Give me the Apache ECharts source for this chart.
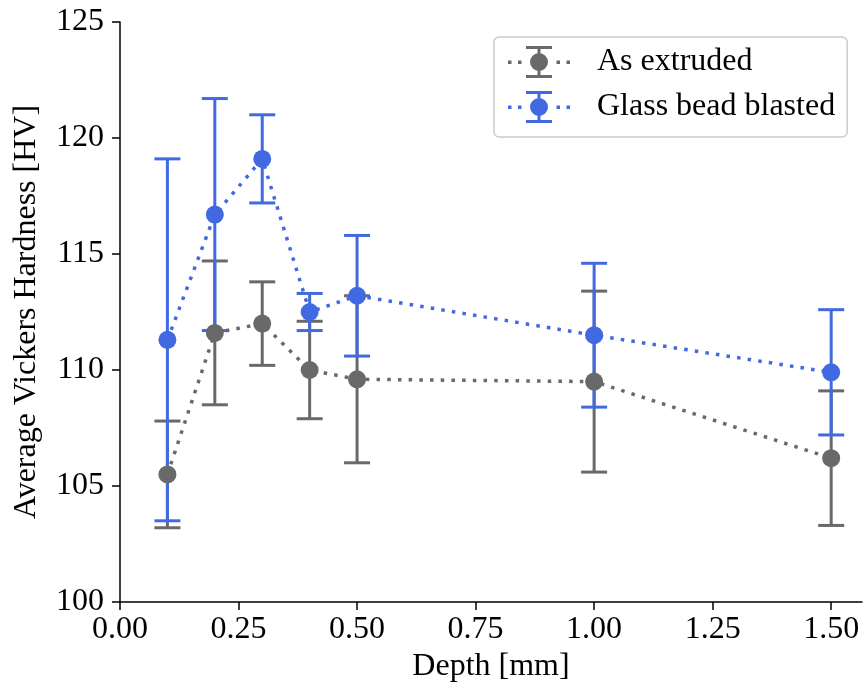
<!DOCTYPE html>
<html>
<head>
<meta charset="utf-8">
<script src="https://cdn.jsdelivr.net/npm/echarts@6/dist/echarts.min.js"></script>
<style>html,body{margin:0;padding:0;background:#fff}#c{width:863px;height:693px}</style>
</head>
<body>
<div id="c"></div>
<script>
// ---- data ----
const depths = [0.1, 0.2, 0.3, 0.4, 0.5, 1.0, 1.5];
const extrudedMean = [105.5, 111.6, 112.0, 110.0, 109.6, 109.5, 106.2];
const extrudedErr  = [2.3, 3.1, 1.8, 2.1, 3.6, 3.9, 2.9];
const blastedMean  = [111.3, 116.7, 119.1, 112.5, 113.2, 111.5, 109.9];
const blastedErr   = [7.8, 5.0, 1.9, 0.8, 2.6, 3.1, 2.7];
const xTicks = [0, 0.25, 0.5, 0.75, 1.0, 1.25, 1.5];
const yTicks = [100, 105, 110, 115, 120, 125];
const seriesNames = ['As extruded', 'Glass bead blasted'];

const GRAY = '#696969';
const BLUE = '#4169e1';
const FONT = 'Liberation Serif';

function pts(mean) { return depths.map((d, i) => [d, mean[i]]); }
function errData(mean, err) { return depths.map((d, i) => [d, mean[i] - err[i], mean[i] + err[i]]); }

function errRender(color) {
  return function (params, api) {
    const x = api.value(0);
    const lo = api.coord([x, api.value(1)]);
    const hi = api.coord([x, api.value(2)]);
    const hw = 13;
    const st = { stroke: color, lineWidth: 3, fill: 'none' };
    return {
      type: 'group',
      children: [
        { type: 'line', shape: { x1: lo[0], y1: lo[1], x2: hi[0], y2: hi[1] }, style: st },
        { type: 'line', shape: { x1: lo[0] - hw, y1: lo[1], x2: lo[0] + hw, y2: lo[1] }, style: st },
        { type: 'line', shape: { x1: hi[0] - hw, y1: hi[1], x2: hi[0] + hw, y2: hi[1] }, style: st }
      ]
    };
  };
}

// legend icon: dotted line + marker + errorbar with caps (62 x 32 box)
const iconPath = 'path://' +
  'M0 14.5h3.5v3.5h-3.5Z M10 14.5h3.5v3.5h-3.5Z M48.5 14.5h3.5v3.5h-3.5Z M58.5 14.5h3.5v3.5h-3.5Z ' +
  'M29.5 0h3v32h-3Z M18 0h26v3h-26Z M18 29h26v3h-26Z ' +
  'M22 16A9 9 0 1 1 40 16A9 9 0 1 1 22 16Z';

const chart = echarts.init(document.getElementById('c'), null, { renderer: 'canvas' });
chart.setOption({
  animation: false,
  backgroundColor: '#fff',
  textStyle: { fontFamily: FONT },
  grid: { left: 120, top: 22, right: 1, bottom: 91, containLabel: false },
  legend: {
    left: 494, top: 37,
    orient: 'vertical',
    padding: [9, 12, 14, 14],
    itemGap: 13,
    itemWidth: 62, itemHeight: 32,
    borderColor: '#cccccc', borderWidth: 1.5, borderRadius: 5,
    backgroundColor: 'rgba(255,255,255,0.8)',
    textStyle: { fontFamily: FONT, fontSize: 32, color: '#000', padding: [0, 0, 0, 22] },
    data: [
      { name: seriesNames[0], icon: iconPath, itemStyle: { color: GRAY } },
      { name: seriesNames[1], icon: iconPath, itemStyle: { color: BLUE } }
    ]
  },
  xAxis: {
    type: 'value', min: 0, max: 1.565,
    name: 'Depth [mm]', nameLocation: 'middle', nameGap: 48,
    nameTextStyle: { fontFamily: FONT, fontSize: 32, color: '#000' },
    axisLine: { show: true, lineStyle: { color: '#000', width: 1.5 } },
    axisTick: { show: true, length: 8, lineStyle: { color: '#000', width: 1.5 }, customValues: xTicks },
    axisLabel: { fontFamily: FONT, fontSize: 32, color: '#000', margin: 12, customValues: xTicks,
      formatter: v => v.toFixed(2) },
    splitLine: { show: false }
  },
  yAxis: {
    type: 'value', min: 100, max: 125, interval: 5,
    name: 'Average Vickers Hardness [HV]', nameLocation: 'middle', nameGap: 77,
    nameTextStyle: { fontFamily: FONT, fontSize: 32, color: '#000' },
    axisLine: { show: true, lineStyle: { color: '#000', width: 1.5 } },
    axisTick: { show: true, length: 8, lineStyle: { color: '#000', width: 1.5 }, customValues: yTicks },
    axisLabel: { fontFamily: FONT, fontSize: 32, color: '#000', margin: 16, customValues: yTicks },
    splitLine: { show: false }
  },
  series: [
    { type: 'custom', name: seriesNames[0] + ' err', data: errData(extrudedMean, extrudedErr),
      renderItem: errRender(GRAY), z: 1, silent: true, encode: { x: 0, y: [1, 2] } },
    { type: 'custom', name: seriesNames[1] + ' err', data: errData(blastedMean, blastedErr),
      renderItem: errRender(BLUE), z: 2, silent: true, encode: { x: 0, y: [1, 2] } },
    { type: 'line', name: seriesNames[0], data: pts(extrudedMean), z: 3,
      symbol: 'circle', symbolSize: 18, color: GRAY,
      itemStyle: { color: GRAY },
      lineStyle: { color: GRAY, width: 3.5, type: [3.5, 7.2], cap: 'butt' } },
    { type: 'line', name: seriesNames[1], data: pts(blastedMean), z: 4,
      symbol: 'circle', symbolSize: 18, color: BLUE,
      itemStyle: { color: BLUE },
      lineStyle: { color: BLUE, width: 3.5, type: [3.5, 7.2], cap: 'butt' } }
  ]
});
</script>
</body>
</html>
